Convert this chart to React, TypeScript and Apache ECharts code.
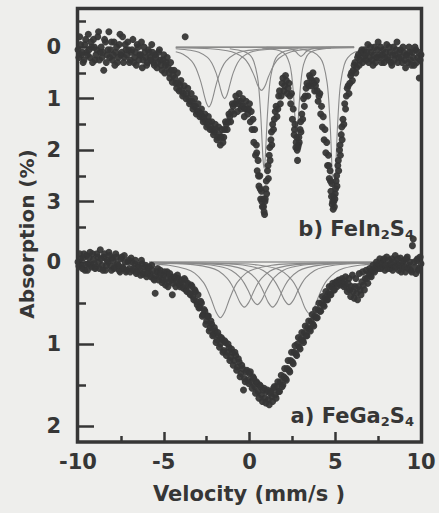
import { useEffect, useRef } from "react";
import * as echarts from "echarts";

// ---------- data ----------
// velocity (mm/s) tick values
const velLabelTicks = [-10, -5, 0, 5, 10];
const velMajorTicks = [-5, 0, 5];
const velMinorTicks = [-7.5, -2.5, 2.5, 7.5];
// absorption (%) ticks
const topAbsLabels = [0, 1, 2, 3];
const topAbsMinor = [-0.5, 0.5, 1.5, 2.5, 3.5];
const botAbsLabels = [0, 1, 2];
const botAbsMinor = [0.5, 1.5];

// b) FeIn2S4 measured points [velocity, absorption], first half of the folded spectrum
const feIn2S4Points: [number, number][] = [
  [-10, 0.05], [-9.9, -0.2], [-9.8, 0.15], [-9.7, 0.3], [-9.6, -0.05], [-9.5, 0.1], [-9.4, -0.25], [-9.3, 0.2], [-9.2, 0.0], [-9.1, -0.15],
  [-9.0, 0.25], [-8.9, 0.05], [-8.8, -0.3], [-8.7, 0.1], [-8.6, 0.2], [-8.5, 0.45], [-8.4, -0.1], [-8.3, 0.15], [-8.2, -0.3], [-8.1, 0.05],
  [-8.0, 0.25], [-7.9, -0.1], [-7.8, 0.1], [-7.7, 0.3], [-7.6, -0.05], [-7.5, 0.15], [-7.4, -0.2], [-7.3, 0.2], [-7.2, 0.05], [-7.1, -0.1],
  [-7.0, 0.3], [-6.9, 0.1], [-6.8, -0.15], [-6.7, 0.2], [-6.6, 0.35], [-6.5, 0.0], [-6.4, 0.15], [-6.3, -0.1], [-6.2, 0.25], [-6.1, 0.1],
  [-6.0, 0.35], [-5.9, 0.05], [-5.8, 0.2], [-5.7, -0.05], [-5.6, 0.3], [-5.5, 0.15], [-5.4, 0.4], [-5.3, 0.1], [-5.2, 0.25], [-5.1, 0.45],
  [-5.0, 0.15], [-4.9, 0.35], [-4.8, 0.2], [-4.7, 0.5], [-4.6, 0.3], [-4.5, 0.68], [-4.4, 0.45], [-4.3, 0.7], [-4.2, 0.5], [-4.1, 0.85],
  [-4.0, 0.65], [-3.9, 0.95], [-3.8, 0.75], [-3.75, -0.2], [-3.7, 1.0], [-3.6, 0.8], [-3.5, 1.1], [-3.4, 0.9], [-3.3, 1.2], [-3.2, 1.0],
  [-3.1, 1.3], [-3.0, 1.1], [-2.9, 1.35], [-2.8, 1.2], [-2.7, 1.45], [-2.6, 1.3], [-2.5, 1.55], [-2.4, 1.35], [-2.3, 1.6], [-2.2, 1.45],
  [-2.1, 1.7], [-2.0, 1.5], [-1.9, 1.8], [-1.8, 1.55], [-1.7, 1.9], [-1.6, 1.6], [-1.5, 1.75], [-1.4, 1.45], [-1.3, 1.6], [-1.2, 1.3],
  [-1.1, 1.45], [-1.0, 1.1], [-0.9, 1.3], [-0.8, 0.95], [-0.7, 1.25], [-0.6, 0.9], [-0.5, 1.2], [-0.4, 1.0], [-0.3, 1.35], [-0.2, 1.05],
  [-0.1, 1.3], [0.0, 1.1], [0.05, 1.45], [0.1, 1.25], [0.15, 1.6], [0.2, 1.4], [0.25, 1.85], [0.3, 1.6], [0.35, 2.1], [0.4, 1.9],
  [0.45, 2.4], [0.5, 2.2], [0.55, 2.7], [0.6, 2.5], [0.65, 2.95], [0.7, 2.8], [0.75, 3.1], [0.8, 2.95], [0.85, 3.2], [0.9, 3.0],
  [0.95, 2.75], [1.0, 2.85], [1.05, 2.4], [1.1, 2.55], [1.15, 2.1], [1.2, 2.2], [1.25, 1.8], [1.3, 1.9], [1.35, 1.5], [1.4, 1.6],
  [1.5, 1.25], [1.6, 1.35], [1.7, 0.95], [1.8, 1.1], [1.9, 0.7], [2.0, 0.85], [2.1, 0.55], [2.2, 0.9], [2.3, 0.7], [2.4, 1.1],
  [2.45, 0.9], [2.5, 1.4], [2.55, 1.2], [2.6, 1.7], [2.65, 1.5], [2.7, 1.95], [2.75, 1.75], [2.8, 2.2], [2.85, 1.9], [2.9, 1.85],
  [2.95, 1.6], [3.0, 1.65], [3.05, 1.3], [3.1, 1.4], [3.15, 1.0], [3.2, 1.15], [3.3, 0.8], [3.4, 0.95], [3.5, 0.55], [3.6, 0.75],
  [3.7, 0.5], [3.8, 0.85], [3.9, 0.65], [4.0, 1.05], [4.1, 0.9], [4.15, 1.3], [4.2, 1.15], [4.25, 1.55], [4.3, 1.35], [4.35, 1.8],
  [4.4, 1.6], [4.45, 2.05], [4.5, 1.85], [4.55, 2.3], [4.6, 2.1], [4.65, 2.55], [4.7, 2.4], [4.75, 2.8], [4.8, 2.65], [4.85, 3.0],
  [4.9, 2.9], [4.95, 3.1], [5.0, 2.85], [5.05, 2.6], [5.1, 2.7], [5.15, 2.3], [5.2, 2.4], [5.25, 2.0], [5.3, 2.1], [5.35, 1.7],
  [5.4, 1.8], [5.45, 1.4], [5.5, 1.5], [5.55, 1.1], [5.6, 1.2], [5.7, 0.8], [5.8, 0.9], [5.9, 0.55], [6.0, 0.65], [6.1, 0.35],
  [6.2, 0.5], [6.3, 0.2], [6.4, 0.35], [6.5, 0.1], [6.6, 0.3], [6.7, 0.05], [6.8, 0.25], [6.9, -0.05], [7.0, 0.2], [7.1, 0.1],
  [7.2, 0.35], [7.3, 0.0], [7.4, 0.2], [7.5, -0.1], [7.6, 0.15], [7.7, 0.3], [7.8, 0.05], [7.9, 0.2], [8.0, -0.05], [8.1, 0.25],
  [8.2, 0.1], [8.3, 0.35], [8.4, 0.0], [8.5, 0.15], [8.6, -0.1], [8.7, 0.2], [8.8, 0.05], [8.9, 0.3], [9.0, 0.1], [9.1, 0.4],
  [9.2, 0.15], [9.3, 0.0], [9.4, 0.25], [9.5, 0.1], [9.6, 0.35], [9.7, 0.05], [9.8, 0.2], [9.9, 0.6], [10.0, 0.15],
];
// b) FeIn2S4 measured points, second half of the folded spectrum
const feIn2S4PointsB: [number, number][] = [
  [-9.95, 0.2], [-9.85, -0.05], [-9.75, 0.1], [-9.65, 0.25], [-9.55, -0.15], [-9.45, 0.15], [-9.35, 0.05], [-9.25, -0.1], [-9.15, 0.3], [-9.05, 0.0],
  [-8.95, 0.15], [-8.85, -0.2], [-8.75, 0.25], [-8.65, 0.0], [-8.55, 0.1], [-8.45, -0.15], [-8.35, 0.3], [-8.25, 0.05], [-8.15, 0.2], [-8.05, -0.1],
  [-7.95, 0.15], [-7.85, 0.35], [-7.75, 0.0], [-7.65, 0.2], [-7.55, -0.25], [-7.45, 0.1], [-7.35, 0.3], [-7.25, -0.05], [-7.15, 0.15], [-7.05, 0.05],
  [-6.95, 0.25], [-6.85, 0.05], [-6.75, 0.3], [-6.65, 0.1], [-6.55, -0.05], [-6.45, 0.25], [-6.35, 0.15], [-6.25, 0.4], [-6.15, 0.0], [-6.05, 0.2],
  [-5.95, 0.3], [-5.85, 0.1], [-5.75, 0.25], [-5.65, 0.1], [-5.55, 0.35], [-5.45, 0.2], [-5.35, 0.3], [-5.25, 0.05], [-5.15, 0.35], [-5.05, 0.25],
  [-4.95, 0.5], [-4.85, 0.3], [-4.75, 0.4], [-4.65, 0.6], [-4.55, 0.45], [-4.45, 0.55], [-4.35, 0.6], [-4.25, 0.8], [-4.15, 0.7], [-4.05, 0.75],
  [-3.95, 0.85], [-3.85, 0.9], [-3.65, 0.9], [-3.55, 1.0], [-3.45, 1.05], [-3.35, 1.05], [-3.25, 1.15], [-3.15, 1.15], [-3.05, 1.25], [-2.95, 1.25],
  [-2.85, 1.3], [-2.75, 1.35], [-2.65, 1.4], [-2.55, 1.45], [-2.45, 1.5], [-2.35, 1.45], [-2.25, 1.55], [-2.15, 1.6], [-2.05, 1.65], [-1.95, 1.6],
  [-1.85, 1.75], [-1.75, 1.7], [-1.65, 1.75], [-1.55, 1.85], [-1.45, 1.6], [-1.35, 1.5], [-1.25, 1.45], [-1.15, 1.35], [-1.05, 1.25], [-0.95, 1.15],
  [-0.85, 1.1], [-0.75, 1.05], [-0.65, 1.1], [-0.55, 1.05], [-0.45, 1.15], [-0.35, 1.15], [-0.25, 1.2], [-0.15, 1.2], [-0.05, 1.2],
  [0.42, 2.05], [0.52, 2.5], [0.62, 2.75], [0.72, 3.0], [0.82, 3.1], [0.88, 3.25], [0.92, 2.95], [0.98, 2.6], [1.08, 2.3], [1.18, 1.95], [1.28, 1.65],
  [1.45, 1.4], [1.55, 1.15], [1.65, 1.2], [1.75, 0.85], [1.85, 0.95], [1.95, 0.6], [2.05, 0.75], [2.15, 0.65], [2.25, 0.8], [2.35, 0.95],
  [2.62, 1.6], [2.72, 1.85], [2.78, 2.0], [2.82, 1.95], [2.88, 1.75], [2.98, 1.45],
  [3.25, 0.95], [3.35, 0.7], [3.45, 0.75], [3.55, 0.6], [3.65, 0.65], [3.75, 0.7], [3.85, 0.75], [3.95, 0.85], [4.05, 0.95],
  [4.62, 2.3], [4.72, 2.6], [4.78, 2.9], [4.82, 3.05], [4.88, 3.15], [4.92, 3.0], [4.98, 2.95], [5.02, 2.75], [5.08, 2.5], [5.18, 2.2], [5.28, 1.9], [5.38, 1.55],
  [5.65, 0.95], [5.75, 0.75], [5.85, 0.7], [5.95, 0.5], [6.05, 0.45], [6.15, 0.3], [6.25, 0.4], [6.35, 0.15], [6.45, 0.25], [6.55, 0.05],
  [6.65, 0.2], [6.75, 0.15], [6.85, 0.1], [6.95, 0.3], [7.05, 0.0], [7.15, 0.25], [7.25, 0.15], [7.35, 0.3], [7.45, 0.05], [7.55, 0.2],
  [7.65, 0.0], [7.75, 0.15], [7.85, 0.3], [7.95, 0.1], [8.05, 0.2], [8.15, 0.0], [8.25, 0.3], [8.35, 0.15], [8.45, 0.25], [8.55, 0.05],
  [8.65, 0.3], [8.75, 0.1], [8.85, 0.2], [8.95, 0.0], [9.05, 0.25], [9.15, 0.15], [9.25, 0.3], [9.35, 0.1], [9.45, 0.35], [9.55, 0.2],
  [9.65, 0.0], [9.75, 0.3], [9.85, 0.1], [9.95, 0.25],
];

// b) FeIn2S4 fitted sub-spectra [velocity, absorption]
const feIn2S4Baseline: [number, number][] = [[-4.3, 0], [6.1, 0]];
const feIn2S4FitA: [number, number][] = [
  [-4.3, 0.09], [-3.87, 0.14], [-3.37, 0.27], [-3.12, 0.41], [-2.87, 0.64], [-2.745, 0.79], [-2.62, 0.96], [-2.495, 1.1],
  [-2.37, 1.16], [-2.245, 1.1], [-2.12, 0.96], [-1.995, 0.79], [-1.87, 0.64], [-1.62, 0.41], [-1.37, 0.27], [-0.87, 0.14],
  [-0.37, 0.08], [0.63, 0.04], [1.63, 0.02], [3.0, 0.01], [6.1, 0.0],
];
const feIn2S4FitB: [number, number][] = [
  [-4.3, 0.03], [-3.45, 0.06], [-2.95, 0.1], [-2.45, 0.2], [-2.2, 0.31], [-1.95, 0.5], [-1.825, 0.64], [-1.7, 0.8],
  [-1.575, 0.94], [-1.45, 1.0], [-1.325, 0.94], [-1.2, 0.8], [-1.075, 0.64], [-0.95, 0.5], [-0.7, 0.31], [-0.45, 0.2],
  [0.05, 0.1], [0.55, 0.06], [1.55, 0.03], [3.5, 0.01], [6.1, 0.0],
];
const feIn2S4FitC: [number, number][] = [
  [-4.3, 0.01], [-2.3, 0.03], [-1.3, 0.07], [-0.8, 0.12], [-0.3, 0.22], [-0.05, 0.33], [0.2, 0.5], [0.325, 0.6], [0.45, 0.72],
  [0.575, 0.8], [0.7, 0.84], [0.825, 0.8], [0.95, 0.72], [1.075, 0.6], [1.2, 0.5], [1.45, 0.33], [1.7, 0.22], [2.2, 0.12],
  [2.7, 0.07], [3.7, 0.03], [6.1, 0.01],
];
const feIn2S4FitD: [number, number][] = [
  [1.0, 0.004], [2.0, 0.015], [2.4, 0.036], [2.7, 0.09], [2.85, 0.144], [3.0, 0.18], [3.15, 0.144], [3.3, 0.09], [3.6, 0.036],
  [4.0, 0.015], [5.0, 0.004],
];
const feIn2S4FitE: [number, number][] = [
  [-1.15, 0.03], [-0.35, 0.08], [0.05, 0.16], [0.25, 0.28], [0.45, 0.55], [0.55, 0.82], [0.65, 1.29], [0.7, 1.6], [0.75, 1.95],
  [0.8, 2.23], [0.85, 2.35], [0.9, 2.23], [0.95, 1.95], [1.0, 1.6], [1.05, 1.29], [1.15, 0.82], [1.25, 0.55], [1.45, 0.28],
  [1.65, 0.16], [2.05, 0.08], [2.85, 0.03],
];
const feIn2S4FitF: [number, number][] = [
  [0.75, 0.02], [1.55, 0.05], [1.95, 0.1], [2.15, 0.17], [2.35, 0.34], [2.45, 0.52], [2.55, 0.85], [2.6, 1.09], [2.65, 1.36],
  [2.7, 1.6], [2.75, 1.7], [2.8, 1.6], [2.85, 1.36], [2.9, 1.09], [2.95, 0.85], [3.05, 0.52], [3.15, 0.34], [3.35, 0.17],
  [3.55, 0.1], [3.95, 0.05], [4.75, 0.02],
];
const feIn2S4FitG: [number, number][] = [
  [2.92, 0.035], [3.72, 0.1], [4.12, 0.21], [4.32, 0.35], [4.52, 0.68], [4.62, 1.03], [4.72, 1.62], [4.77, 2.01], [4.82, 2.45],
  [4.87, 2.81], [4.92, 2.95], [4.97, 2.81], [5.02, 2.45], [5.07, 2.01], [5.12, 1.62], [5.22, 1.03], [5.32, 0.68], [5.52, 0.35],
  [5.72, 0.21], [6.12, 0.1], [6.92, 0.035],
];

// a) FeGa2S4 measured points [velocity, absorption], first half
const feGa2S4Points: [number, number][] = [
  [-10, 0.0], [-9.9, -0.1], [-9.8, 0.05], [-9.7, -0.05], [-9.6, 0.1], [-9.5, -0.08], [-9.4, 0.02], [-9.3, -0.12], [-9.2, 0.06], [-9.1, -0.03],
  [-9.0, 0.08], [-8.9, -0.1], [-8.8, 0.0], [-8.7, -0.15], [-8.6, 0.04], [-8.5, -0.06], [-8.4, 0.1], [-8.3, -0.02], [-8.2, -0.12], [-8.1, 0.05],
  [-8.0, -0.05], [-7.9, 0.08], [-7.8, -0.1], [-7.7, 0.02], [-7.6, 0.1], [-7.5, -0.04], [-7.4, 0.06], [-7.3, -0.08], [-7.2, 0.12], [-7.1, 0.0],
  [-7.0, 0.08], [-6.9, -0.05], [-6.8, 0.1], [-6.7, 0.02], [-6.6, 0.14], [-6.5, 0.04], [-6.4, 0.1], [-6.3, -0.02], [-6.2, 0.15], [-6.1, 0.06],
  [-6.0, 0.18], [-5.9, 0.08], [-5.8, 0.14], [-5.7, 0.04], [-5.6, 0.2], [-5.5, 0.38], [-5.4, 0.12], [-5.3, 0.22], [-5.2, 0.1], [-5.1, 0.25],
  [-5.0, 0.16], [-4.9, 0.28], [-4.8, 0.12], [-4.7, 0.24], [-4.6, 0.18], [-4.5, 0.4], [-4.4, 0.2], [-4.3, 0.3], [-4.2, 0.16], [-4.1, 0.27],
  [-4.0, 0.22], [-3.9, 0.3], [-3.8, 0.2], [-3.7, 0.34], [-3.6, 0.26], [-3.5, 0.38], [-3.4, 0.28], [-3.3, 0.42], [-3.2, 0.34], [-3.1, 0.48],
  [-3.0, 0.4], [-2.9, 0.55], [-2.8, 0.5], [-2.7, 0.64], [-2.6, 0.6], [-2.5, 0.72], [-2.4, 0.66], [-2.3, 0.8], [-2.2, 0.76], [-2.1, 0.88],
  [-2.0, 0.84], [-1.9, 0.95], [-1.8, 0.9], [-1.7, 1.0], [-1.6, 0.94], [-1.5, 1.08], [-1.4, 0.98], [-1.3, 1.1], [-1.2, 1.04], [-1.1, 1.16],
  [-1.0, 1.1], [-0.9, 1.2], [-0.8, 1.14], [-0.7, 1.28], [-0.6, 1.22], [-0.5, 1.36], [-0.4, 1.3], [-0.35, 1.56], [-0.3, 1.42], [-0.2, 1.34],
  [-0.1, 1.44], [0.0, 1.36], [0.1, 1.46], [0.2, 1.4], [0.3, 1.52], [0.4, 1.46], [0.5, 1.58], [0.6, 1.5], [0.7, 1.62], [0.8, 1.56],
  [0.9, 1.66], [1.0, 1.58], [1.1, 1.68], [1.2, 1.6], [1.3, 1.64], [1.4, 1.54], [1.5, 1.62], [1.6, 1.52], [1.7, 1.58], [1.8, 1.46],
  [1.9, 1.52], [2.0, 1.4], [2.1, 1.42], [2.2, 1.3], [2.3, 1.32], [2.4, 1.2], [2.5, 1.22], [2.6, 1.1], [2.7, 1.12], [2.8, 1.0],
  [2.9, 1.04], [3.0, 0.94], [3.1, 0.96], [3.2, 0.86], [3.3, 0.9], [3.4, 0.8], [3.5, 0.82], [3.6, 0.72], [3.7, 0.76], [3.8, 0.66],
  [3.9, 0.68], [4.0, 0.58], [4.1, 0.6], [4.2, 0.5], [4.3, 0.52], [4.4, 0.44], [4.5, 0.46], [4.6, 0.38], [4.7, 0.4], [4.8, 0.3],
  [4.9, 0.34], [5.0, 0.26], [5.1, 0.3], [5.2, 0.22], [5.3, 0.28], [5.4, 0.2], [5.5, 0.3], [5.6, 0.18], [5.7, 0.36], [5.8, 0.2],
  [5.9, 0.42], [6.0, 0.16], [6.1, 0.44], [6.2, 0.2], [6.3, 0.46], [6.4, 0.14], [6.5, 0.4], [6.6, 0.12], [6.7, 0.34], [6.8, 0.1],
  [6.9, 0.26], [7.0, 0.08], [7.1, 0.18], [7.2, 0.04], [7.3, 0.12], [7.4, 0.0], [7.5, 0.08], [7.6, -0.04], [7.7, 0.06], [7.8, -0.02],
  [7.9, 0.1], [8.0, -0.06], [8.1, 0.04], [8.2, 0.08], [8.3, -0.04], [8.4, 0.06], [8.5, -0.08], [8.6, 0.02], [8.7, 0.1], [8.8, -0.05],
  [8.9, 0.05], [9.0, -0.02], [9.1, 0.12], [9.2, -0.06], [9.3, 0.04], [9.4, 0.1], [9.5, -0.2], [9.6, 0.0], [9.7, 0.14], [9.8, -0.04],
  [9.9, 0.08], [10.0, 0.02],
];
// a) FeGa2S4 measured points, second half
const feGa2S4PointsB: [number, number][] = [
  [-9.95, 0.05], [-9.85, -0.04], [-9.75, 0.08], [-9.65, -0.1], [-9.55, 0.03], [-9.45, 0.1], [-9.35, -0.05], [-9.25, 0.04], [-9.15, -0.1], [-9.05, 0.02],
  [-8.95, 0.06], [-8.85, -0.06], [-8.75, 0.08], [-8.65, -0.04], [-8.55, 0.1], [-8.45, -0.1], [-8.35, 0.04], [-8.25, 0.0], [-8.15, -0.08], [-8.05, 0.1],
  [-7.95, -0.02], [-7.85, 0.06], [-7.75, -0.06], [-7.65, 0.04], [-7.55, 0.12], [-7.45, -0.06], [-7.35, 0.08], [-7.25, 0.0], [-7.15, 0.1], [-7.05, -0.02],
  [-6.95, 0.12], [-6.85, 0.0], [-6.75, 0.08], [-6.65, -0.02], [-6.55, 0.12], [-6.45, 0.06], [-6.35, 0.16], [-6.25, 0.02], [-6.15, 0.12], [-6.05, 0.04],
  [-5.95, 0.14], [-5.85, 0.06], [-5.75, 0.18], [-5.65, 0.1], [-5.55, 0.22], [-5.45, 0.16], [-5.35, 0.08], [-5.25, 0.18], [-5.15, 0.14], [-5.05, 0.22],
  [-4.95, 0.12], [-4.85, 0.2], [-4.75, 0.3], [-4.65, 0.14], [-4.55, 0.22], [-4.45, 0.26], [-4.35, 0.18], [-4.25, 0.24], [-4.15, 0.2], [-4.05, 0.3],
  [-3.95, 0.24], [-3.85, 0.32], [-3.75, 0.22], [-3.65, 0.36], [-3.55, 0.28], [-3.45, 0.4], [-3.35, 0.3], [-3.25, 0.46], [-3.15, 0.36], [-3.05, 0.52],
  [-2.95, 0.56], [-2.85, 0.48], [-2.75, 0.66], [-2.65, 0.58], [-2.55, 0.76], [-2.45, 0.66], [-2.35, 0.84], [-2.25, 0.72], [-2.15, 0.9], [-2.05, 0.8],
  [-1.95, 0.98], [-1.85, 0.86], [-1.75, 1.04], [-1.65, 0.92], [-1.55, 1.1], [-1.45, 0.96], [-1.35, 1.14], [-1.25, 1.0], [-1.15, 1.2], [-1.05, 1.06],
  [-0.95, 1.26], [-0.85, 1.1], [-0.75, 1.32], [-0.65, 1.18], [-0.55, 1.4], [-0.45, 1.26], [-0.25, 1.46], [-0.15, 1.32], [-0.05, 1.48],
  [0.05, 1.34], [0.15, 1.54], [0.25, 1.42], [0.35, 1.6], [0.45, 1.48], [0.55, 1.66], [0.65, 1.52], [0.75, 1.7], [0.85, 1.54], [0.95, 1.72],
  [1.05, 1.56], [1.15, 1.74], [1.25, 1.58], [1.35, 1.7], [1.45, 1.52], [1.55, 1.66], [1.65, 1.46], [1.75, 1.58], [1.85, 1.38], [1.95, 1.5],
  [2.05, 1.3], [2.15, 1.44], [2.25, 1.2], [2.35, 1.34], [2.45, 1.1], [2.55, 1.24], [2.65, 1.02], [2.75, 1.14], [2.85, 0.92], [2.95, 1.06],
  [3.05, 0.86], [3.15, 0.98], [3.25, 0.78], [3.35, 0.9], [3.45, 0.72], [3.55, 0.84], [3.65, 0.64], [3.75, 0.78], [3.85, 0.58], [3.95, 0.68],
  [4.05, 0.5], [4.15, 0.6], [4.25, 0.42], [4.35, 0.54], [4.45, 0.36], [4.55, 0.46], [4.65, 0.3], [4.75, 0.4], [4.85, 0.26], [4.95, 0.34],
  [5.05, 0.24], [5.15, 0.26], [5.25, 0.24], [5.35, 0.22], [5.45, 0.26], [5.55, 0.24], [5.65, 0.3], [5.75, 0.26], [5.85, 0.34], [5.95, 0.3],
  [6.05, 0.36], [6.15, 0.3], [6.25, 0.38], [6.35, 0.3], [6.45, 0.34], [6.55, 0.24], [6.65, 0.28], [6.75, 0.2], [6.85, 0.2], [6.95, 0.14],
  [7.05, 0.16], [7.15, 0.1], [7.25, 0.1], [7.35, 0.06], [7.45, 0.04], [7.55, 0.02], [7.65, 0.08], [7.75, 0.02], [7.85, -0.04], [7.95, 0.04],
  [8.05, 0.08], [8.15, -0.02], [8.25, 0.02], [8.35, 0.1], [8.45, 0.0], [8.55, 0.06], [8.65, -0.04], [8.75, 0.04], [8.85, 0.12], [8.95, 0.0],
  [9.05, 0.06], [9.15, -0.04], [9.25, 0.08], [9.35, 0.0], [9.45, 0.12], [9.55, -0.28], [9.65, 0.06], [9.75, -0.02], [9.85, 0.1], [9.95, -0.06],
];

// a) FeGa2S4 fitted sub-spectra [velocity, absorption]
const feGa2S4Baseline: [number, number][] = [[-5.85, 0], [7.45, 0]];
const feGa2S4FitA: [number, number][] = [
  [-5.7, 0.023], [-4.7, 0.04], [-3.7, 0.084], [-3.2, 0.136], [-2.7, 0.245], [-2.45, 0.34], [-2.2, 0.47], [-1.95, 0.61],
  [-1.7, 0.68], [-1.45, 0.61], [-1.2, 0.47], [-0.95, 0.34], [-0.7, 0.245], [-0.2, 0.136], [0.3, 0.084], [1.3, 0.04],
  [2.3, 0.023], [4.3, 0.01], [7.45, 0.004],
];
const feGa2S4FitB: [number, number][] = [
  [-5.85, 0.01], [-4.3, 0.019], [-3.3, 0.032], [-2.3, 0.068], [-1.8, 0.11], [-1.3, 0.2], [-1.05, 0.275], [-0.8, 0.38],
  [-0.55, 0.495], [-0.3, 0.55], [-0.05, 0.495], [0.2, 0.38], [0.45, 0.275], [0.7, 0.2], [1.2, 0.11], [1.7, 0.068],
  [2.7, 0.032], [3.7, 0.019], [7.45, 0.005],
];
const feGa2S4FitC: [number, number][] = [
  [-5.85, 0.007], [-3.55, 0.018], [-2.55, 0.031], [-1.55, 0.064], [-1.05, 0.104], [-0.55, 0.187], [-0.3, 0.26], [-0.05, 0.36],
  [0.2, 0.468], [0.45, 0.52], [0.7, 0.468], [0.95, 0.36], [1.2, 0.26], [1.45, 0.187], [1.95, 0.104], [2.45, 0.064],
  [3.45, 0.031], [4.45, 0.018], [7.45, 0.006],
];
const feGa2S4FitD: [number, number][] = [
  [-5.85, 0.006], [-2.65, 0.019], [-1.65, 0.032], [-0.65, 0.068], [-0.15, 0.11], [0.35, 0.2], [0.6, 0.275], [0.85, 0.38],
  [1.1, 0.495], [1.35, 0.55], [1.6, 0.495], [1.85, 0.38], [2.1, 0.275], [2.35, 0.2], [2.85, 0.11], [3.35, 0.068],
  [4.35, 0.032], [5.35, 0.019], [7.45, 0.008],
];
const feGa2S4FitE: [number, number][] = [
  [-5.85, 0.005], [-1.7, 0.018], [-0.7, 0.031], [0.3, 0.064], [0.8, 0.104], [1.3, 0.187], [1.55, 0.26], [1.8, 0.36],
  [2.05, 0.468], [2.3, 0.52], [2.55, 0.468], [2.8, 0.36], [3.05, 0.26], [3.3, 0.187], [3.8, 0.104], [4.3, 0.064],
  [5.3, 0.031], [6.3, 0.018], [7.45, 0.013],
];
const feGa2S4FitF: [number, number][] = [
  [-5.85, 0.004], [-0.5, 0.021], [0.5, 0.037], [1.5, 0.077], [2.0, 0.126], [2.5, 0.227], [2.75, 0.315], [3.0, 0.436],
  [3.25, 0.567], [3.5, 0.63], [3.75, 0.567], [4.0, 0.436], [4.25, 0.315], [4.5, 0.227], [5.0, 0.126], [5.5, 0.077],
  [6.5, 0.037], [7.45, 0.022],
];

// ---------- styling ----------
const BG = "#eeeeec";
const INK = "#363636";
const FIT = "#8a8a8a";
const FONT = "DejaVu Sans";

const labelFont = { fontFamily: FONT, fontWeight: "bold" as const, fontSize: 21, color: INK };

function fitSeries(data: [number, number][], xi: number, yi: number, color = FIT) {
  return {
    type: "line",
    xAxisIndex: xi,
    yAxisIndex: yi,
    data,
    smooth: 0.3,
    showSymbol: false,
    silent: true,
    z: 1,
    lineStyle: { color, width: 1.1 },
  };
}

function pointSeries(data: [number, number][], xi: number, yi: number) {
  return {
    type: "scatter",
    xAxisIndex: xi,
    yAxisIndex: yi,
    data,
    symbol: "circle",
    symbolSize: 7,
    silent: true,
    z: 3,
    itemStyle: { color: INK, opacity: 0.95 },
  };
}

function yAxisDef(grid: number, min: number, max: number, ticks: number[], len: number, labels: number[] | null) {
  return {
    type: "value",
    gridIndex: grid,
    position: "left",
    offset: 0,
    min,
    max,
    inverse: true,
    axisLine: { show: false, onZero: false },
    splitLine: { show: false },
    axisTick: { show: true, inside: true, length: len, customValues: ticks, lineStyle: { color: INK, width: 2.5 } },
    axisLabel: labels
      ? { show: true, customValues: labels, margin: 17, ...labelFont }
      : { show: false },
  };
}

function xAxisDef(grid: number, ticks: number[], len: number, labels: number[] | null, show = true) {
  return {
    type: "value",
    gridIndex: grid,
    position: "bottom",
    min: -10,
    max: 10,
    show,
    axisLine: { show: false, onZero: false },
    splitLine: { show: false },
    axisTick: { show: true, inside: true, length: len, customValues: ticks, lineStyle: { color: INK, width: 2.5 } },
    axisLabel: labels
      ? { show: true, customValues: labels, margin: 9, ...labelFont }
      : { show: false },
  };
}

export default function App() {
  const ref = useRef<HTMLDivElement>(null);

  useEffect(() => {
    if (!ref.current) return;
    const chart = echarts.init(ref.current, null, { renderer: "svg" });
    const option = {
      animation: false,
      backgroundColor: BG,
      grid: [
        { left: 78, right: 18, top: 8, height: 225 },
        { left: 78, right: 18, top: 233, height: 209 },
      ],
      xAxis: [
        xAxisDef(0, [], 0, null, false),
        xAxisDef(1, velMajorTicks, 10, velLabelTicks),
        xAxisDef(1, velMinorTicks, 6, null),
      ],
      yAxis: [
        yAxisDef(0, -0.76, 3.61, topAbsLabels, 16, topAbsLabels),
        yAxisDef(0, -0.76, 3.61, topAbsMinor, 8, null),
        yAxisDef(1, -0.354, 2.195, botAbsLabels, 16, botAbsLabels),
        yAxisDef(1, -0.354, 2.195, botAbsMinor, 8, null),
      ],
      series: [
        fitSeries(feIn2S4Baseline, 0, 0, "#6a6a6a"),
        fitSeries(feIn2S4FitA, 0, 0),
        fitSeries(feIn2S4FitB, 0, 0),
        fitSeries(feIn2S4FitC, 0, 0),
        fitSeries(feIn2S4FitD, 0, 0),
        fitSeries(feIn2S4FitE, 0, 0),
        fitSeries(feIn2S4FitF, 0, 0),
        fitSeries(feIn2S4FitG, 0, 0),
        pointSeries([...feIn2S4Points, ...feIn2S4PointsB], 0, 0),
        fitSeries(feGa2S4Baseline, 1, 2, "#6a6a6a"),
        fitSeries(feGa2S4FitA, 1, 2),
        fitSeries(feGa2S4FitB, 1, 2),
        fitSeries(feGa2S4FitC, 1, 2),
        fitSeries(feGa2S4FitD, 1, 2),
        fitSeries(feGa2S4FitE, 1, 2),
        fitSeries(feGa2S4FitF, 1, 2),
        pointSeries([...feGa2S4Points, ...feGa2S4PointsB], 1, 2),
      ],
      graphic: [
        {
          type: "rect",
          z: 10,
          silent: true,
          shape: { x: 77.5, y: 8.5, width: 344, height: 433.5 },
          style: { fill: "none", stroke: INK, lineWidth: 3.5 },
        },
        {
          type: "text",
          z: 10,
          x: 27,
          y: 234,
          rotation: Math.PI / 2,
          style: {
            text: "Absorption (%)",
            fontFamily: FONT,
            fontWeight: "bold",
            fontSize: 20,
            fill: INK,
            align: "center",
            verticalAlign: "middle",
          },
        },
        {
          type: "text",
          z: 10,
          x: 249,
          y: 494,
          style: {
            text: "Velocity (mm/s )",
            fontFamily: FONT,
            fontWeight: "bold",
            fontSize: 21,
            fill: INK,
            align: "center",
            verticalAlign: "middle",
          },
        },
        {
          type: "text",
          z: 10,
          x: 414,
          y: 229,
          style: {
            text: "{m|b) FeIn}{s|2}{m|S}{s|4}",
            align: "right",
            verticalAlign: "middle",
            rich: {
              m: { fontFamily: FONT, fontWeight: "bold", fontSize: 21, fill: INK, lineHeight: 24, verticalAlign: "middle" },
              s: { fontFamily: FONT, fontWeight: "bold", fontSize: 13, fill: INK, lineHeight: 13, verticalAlign: "bottom" },
            },
          },
        },
        {
          type: "text",
          z: 10,
          x: 414,
          y: 416,
          style: {
            text: "{m|a) FeGa}{s|2}{m|S}{s|4}",
            align: "right",
            verticalAlign: "middle",
            rich: {
              m: { fontFamily: FONT, fontWeight: "bold", fontSize: 21, fill: INK, lineHeight: 24, verticalAlign: "middle" },
              s: { fontFamily: FONT, fontWeight: "bold", fontSize: 13, fill: INK, lineHeight: 13, verticalAlign: "bottom" },
            },
          },
        },
      ],
    };
    chart.setOption(option as any);
    return () => chart.dispose();
  }, []);

  return (
    <div
      ref={ref}
      style={{ position: "fixed", left: 0, top: 0, width: 439, height: 513, background: BG }}
    />
  );
}
